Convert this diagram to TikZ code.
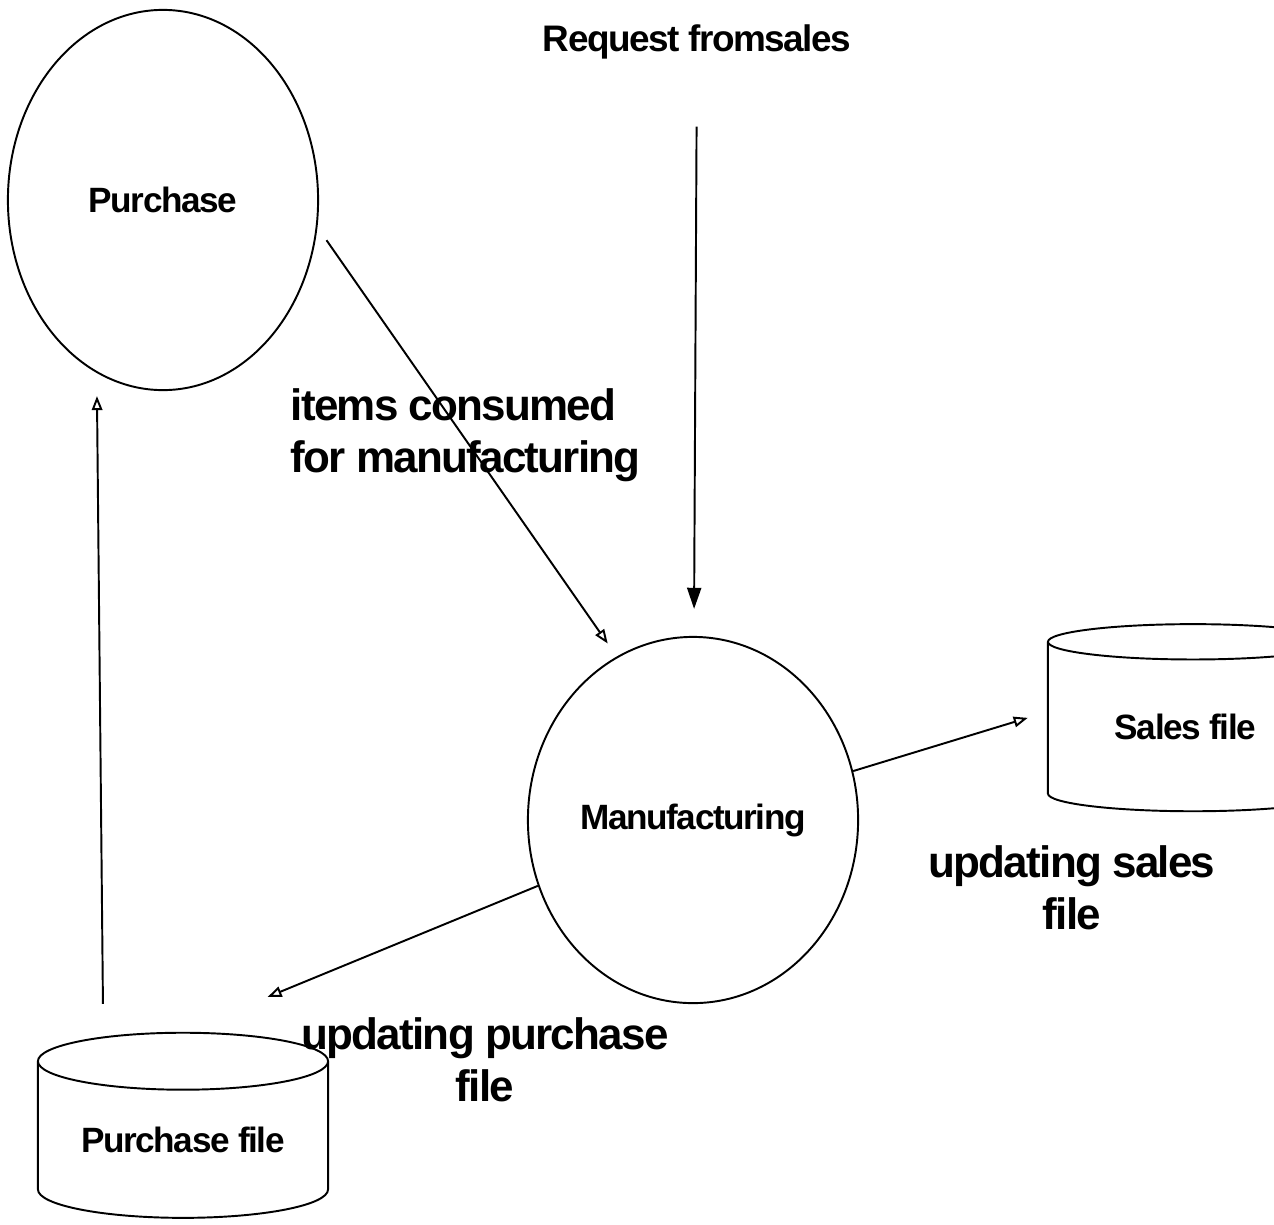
\documentclass[tikz,border=0pt]{standalone}
\usepackage{fontspec}
\setmainfont{Liberation Sans}[LetterSpace=-4]
\usetikzlibrary{shapes.geometric,arrows.meta}

\tikzset{
  proc/.style={draw,ellipse,line width=0.55pt,inner sep=0pt,font=\bfseries\fontsize{10}{12}\selectfont},
  store/.style={draw,cylinder,shape border rotate=90,aspect=0.28,line width=0.55pt,
    minimum width=2.9cm,inner sep=0pt,font=\bfseries\fontsize{10}{12}\selectfont},
  lbl/.style={font=\bfseries\fontsize{12.5}{14.8}\selectfont,inner sep=0pt},
  flow/.style={line width=0.55pt,-{Triangle[open,length=4pt,width=3pt]}},
  fflow/.style={line width=0.55pt,-{Triangle[length=6pt,width=4pt]}}
}

\begin{document}
\begin{tikzpicture}[x=0.01cm,y=-0.01cm]
    \useasboundingbox (0,0) rectangle (1274,1224);
    % processes
    \node [proc,minimum width=3.1cm,minimum height=3.8cm] (purch) at (163,200) {Purchase};
    \node [proc,minimum width=3.3cm,minimum height=3.66cm] (manu) at (693,820) {Manufacturing};
    % files
    \node [store,minimum height=1.87cm] (sales) at (1193,727) {\hspace*{-0.15cm}Sales file};
    \node [store,minimum height=1.85cm] (pfile) at (183,1140) {Purchase file};
    \node [lbl,font=\bfseries\fontsize{10.5}{12}\selectfont] (req) at (697,42) {Request fromsales};
    % flows
    \draw[fflow,shorten <=19pt,shorten >=7.7pt] (req) -- (manu);
    \draw[flow,shorten <=4.5pt,shorten >=4.5pt] (purch.-10) -- (manu.115);
    \draw[flow,shorten >=5.7pt] (manu.17) -- ([yshift=0.15cm]sales.west);
    \draw[flow,shorten >=26pt] (manu.203) -- (pfile.north);
    \draw[flow] ([xshift=-0.8cm,yshift=0.28cm]pfile.north) -- ([xshift=-0.66cm,yshift=-0.05cm]purch.south);
    % labels
    \node [lbl,anchor=west,align=left] (lcons) at (290,435) {items consumed\\for manufacturing};
    \node [lbl,align=center] (lsales) at (1072,888) {updating sales\\file};
    \node [lbl,align=center] (lpur) at (485,1060) {updating purchase\\file};
  \end{tikzpicture}
\end{document}
